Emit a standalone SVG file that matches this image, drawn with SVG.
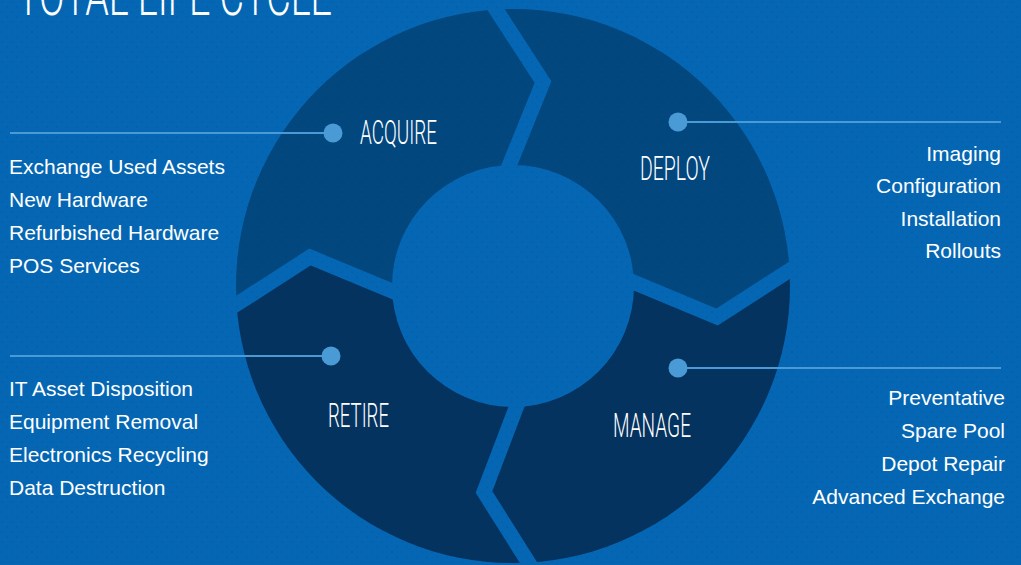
<svg xmlns="http://www.w3.org/2000/svg" width="1021" height="565" viewBox="0 0 1021 565">
<defs>
<style>
.bg{fill:#0567b3}
.top{fill:#03477f}
.bot{fill:#04335f}
.gap{fill:none;stroke:#0567b3;stroke-width:15;stroke-linejoin:miter;stroke-miterlimit:10}
.lbl{font-family:Roboto,"Liberation Sans",sans-serif;font-weight:300;font-size:33px;fill:#ffffff}
.title{font-family:Roboto,"Liberation Sans",sans-serif;font-weight:300;font-size:56px;fill:#ffffff}
.item{font-family:"Liberation Sans",Arial,sans-serif;font-size:21px;fill:#ffffff}
.r{text-anchor:end}
.ln{stroke:#4a9ad6;stroke-width:2;fill:none}
.dot{fill:#4a9ad6}
</style>
<clipPath id="ring"><path clip-rule="evenodd" d="M236,286a277,277 0 1,0 554,0a277,277 0 1,0 -554,0ZM392,286a121,121 0 1,0 242,0a121,121 0 1,0 -242,0Z"/></clipPath>
<pattern id="dots" width="10" height="10" patternUnits="userSpaceOnUse">
<circle cx="2" cy="2" r="1.1" fill="#001a40"/>
<circle cx="7" cy="7" r="1.1" fill="#001a40"/>
</pattern>
</defs>
<rect class="bg" x="0" y="0" width="1021" height="565"/>
<text class="title" x="17" y="15" textLength="315" lengthAdjust="spacingAndGlyphs">TOTAL LIFE CYCLE</text>
<g clip-path="url(#ring)">
<g id="acquire"><path class="top" d="M513,286L415,301L392,291L310,257L237,304L100,392L100,-100L470,-100L482,-12L495,8L543,82L509,166L500,190Z"/></g>
<g id="deploy"><path class="top" d="M513,286L500,190L509,166L543,82L495,8L482,-12L470,-100L1100,-100L1100,200L820,251L790,270L717,317L633,282L610,272Z"/></g>
<g id="manage"><path class="bot" d="M513,286L610,272L633,282L717,317L790,270L820,251L1100,200L1100,700L550,700L545,590L530,565L484,492L516,408L525,385Z"/></g>
<g id="retire"><path class="bot" d="M513,286L525,385L516,408L484,492L530,565L545,590L550,700L100,700L100,392L210,321L237,304L310,257L392,291L415,301Z"/></g>
</g>
<g id="gaps">
<polyline class="gap" points="482,-12 495,8 543,82 509,166 500,190"/>
<polyline class="gap" points="610,272 633,282 717,317 790,270 820,251"/>
<polyline class="gap" points="525,385 516,408 484,492 530,565 545,590"/>
<polyline class="gap" points="210,321 237,304 310,257 392,291 415,301"/>
</g>
<rect x="0" y="0" width="1021" height="565" fill="url(#dots)" opacity="0.09"/>
<g id="connectors">
<line class="ln" x1="10" y1="133" x2="333" y2="133"/>
<circle class="dot" cx="333" cy="133" r="9.5"/>
<line class="ln" x1="678" y1="122" x2="1001" y2="122"/>
<circle class="dot" cx="678" cy="122" r="9.5"/>
<line class="ln" x1="10" y1="356" x2="331" y2="356"/>
<circle class="dot" cx="331" cy="356" r="9.5"/>
<line class="ln" x1="678" y1="368" x2="1001" y2="368"/>
<circle class="dot" cx="678" cy="368" r="9.5"/>
</g>
<g id="acquire-label"><text class="lbl" x="360" y="144" textLength="77" lengthAdjust="spacingAndGlyphs">ACQUIRE</text></g>
<g id="deploy-label"><text class="lbl" x="640" y="180" textLength="70" lengthAdjust="spacingAndGlyphs">DEPLOY</text></g>
<g id="retire-label"><text class="lbl" x="328" y="427" textLength="61" lengthAdjust="spacingAndGlyphs">RETIRE</text></g>
<g id="manage-label"><text class="lbl" x="613" y="437" textLength="78" lengthAdjust="spacingAndGlyphs">MANAGE</text></g>
<g id="acquire-list">
<text class="item" x="9" y="174">Exchange Used Assets</text>
<text class="item" x="9" y="207">New Hardware</text>
<text class="item" x="9" y="240">Refurbished Hardware</text>
<text class="item" x="9" y="273">POS Services</text>
</g>
<g id="deploy-list">
<text class="item r" x="1001" y="161">Imaging</text>
<text class="item r" x="1001" y="193">Configuration</text>
<text class="item r" x="1001" y="226">Installation</text>
<text class="item r" x="1001" y="258">Rollouts</text>
</g>
<g id="retire-list">
<text class="item" x="9" y="396">IT Asset Disposition</text>
<text class="item" x="9" y="429">Equipment Removal</text>
<text class="item" x="9" y="462">Electronics Recycling</text>
<text class="item" x="9" y="495">Data Destruction</text>
</g>
<g id="manage-list">
<text class="item r" x="1005" y="405">Preventative</text>
<text class="item r" x="1005" y="438">Spare Pool</text>
<text class="item r" x="1005" y="471">Depot Repair</text>
<text class="item r" x="1005" y="504">Advanced Exchange</text>
</g>
</svg>
